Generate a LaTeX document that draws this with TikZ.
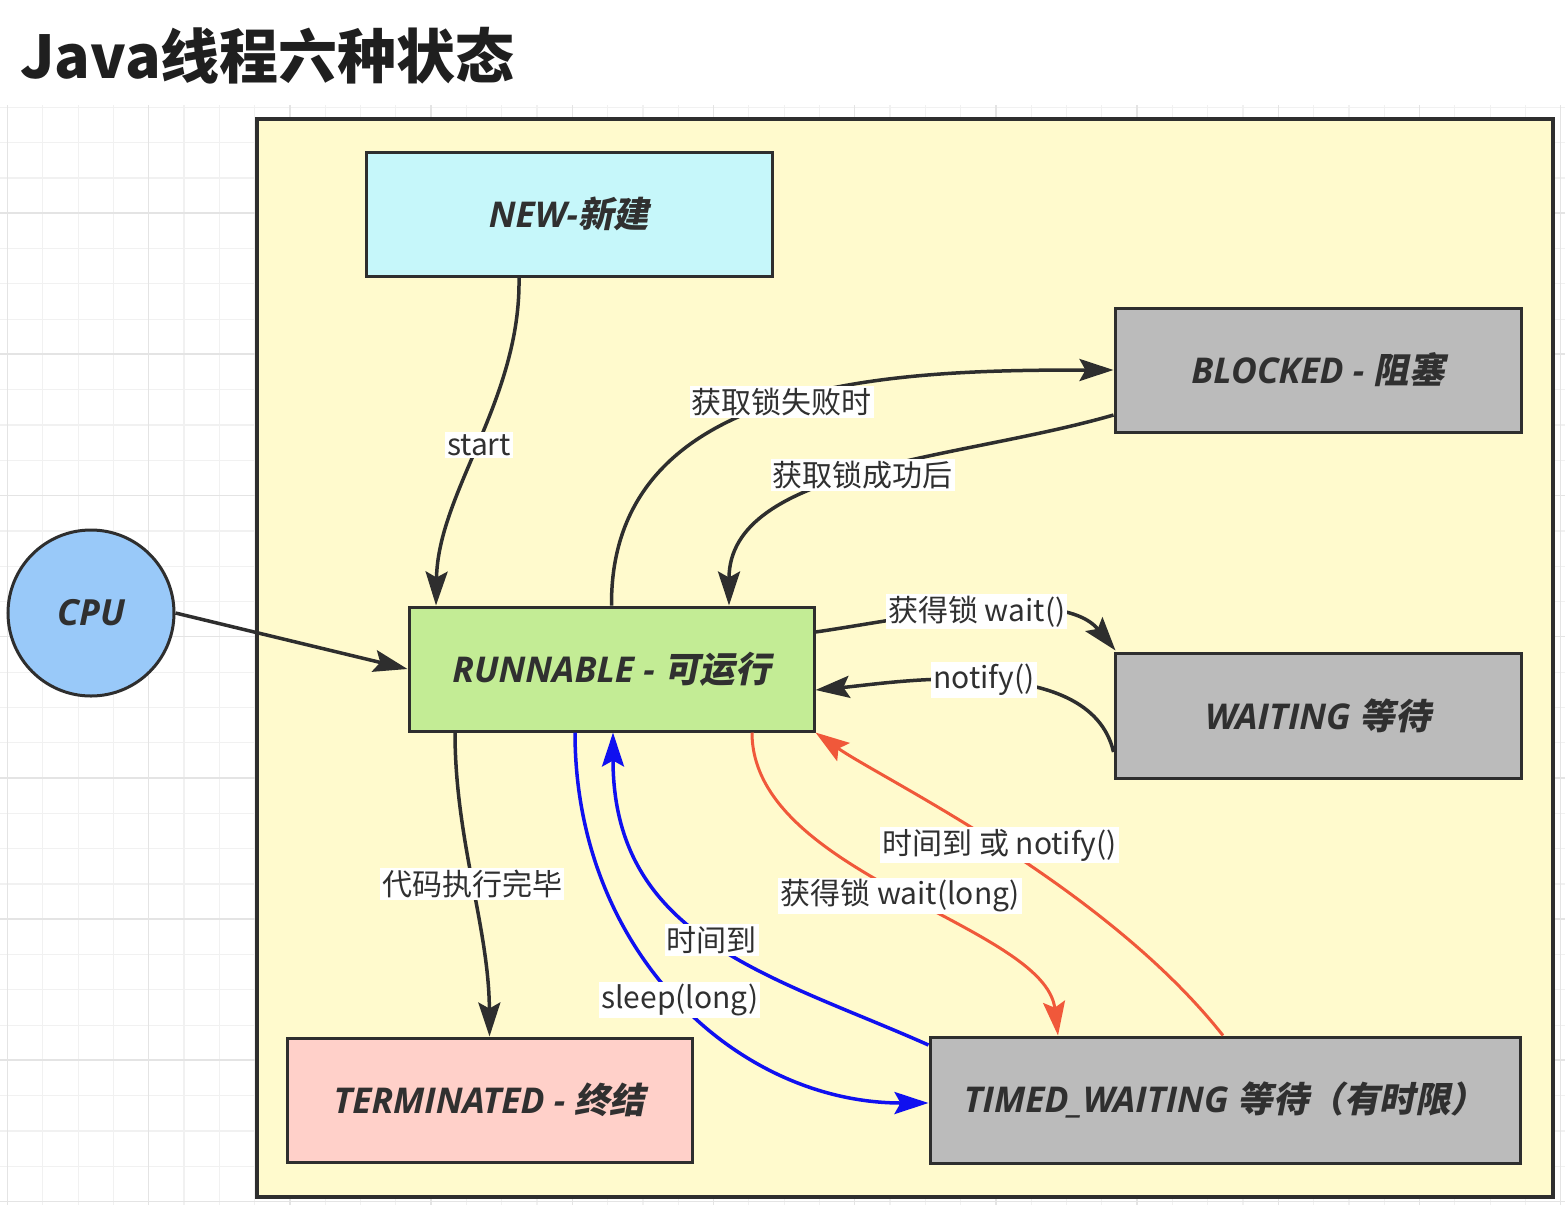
\documentclass[tikz,border=0pt]{standalone}
\usepackage{fontspec}
\usetikzlibrary{arrows.meta}
\newfontfamily\cjk{Noto Sans CJK SC}
\newfontfamily\cjkslant{Noto Sans CJK SC}[FakeSlant=0.2]
\newfontfamily\latf{Open Sans}
\newcommand\bt[2]{{\latf\bfseries\itshape #1}{\cjkslant\bfseries #2}}
\definecolor{dark}{HTML}{2E2E2E}
\definecolor{txt}{HTML}{303030}
\definecolor{yellowfill}{HTML}{FFFACD}
\definecolor{newfill}{HTML}{C6F7FA}
\definecolor{grayfill}{HTML}{BBBBBB}
\definecolor{greenfill}{HTML}{C3EC95}
\definecolor{pinkfill}{HTML}{FFD0C9}
\definecolor{cpufill}{HTML}{99C9F9}
\definecolor{bluearrow}{HTML}{1010F0}
\definecolor{redarrow}{HTML}{F0583A}
\definecolor{gridminor}{HTML}{F1F1F1}
\definecolor{gridmajor}{HTML}{E4E4E4}
\tikzset{
  statebox/.style={draw=dark, line width=3pt, rectangle, minimum width=406pt, minimum height=124pt, inner sep=0pt,
    text=txt, font=\fontsize{35.5}{40}\selectfont},
  conn/.style={draw=dark, line width=3.5pt, -{Stealth[length=34pt,width=22pt,inset=6pt]}},
  bconn/.style={conn, draw=bluearrow, -{Stealth[length=34pt,width=22pt,inset=6pt,color=bluearrow]}},
  rconn/.style={conn, draw=redarrow, line width=3pt, -{Stealth[length=34pt,width=22pt,inset=6pt,color=redarrow]}},
  lbl/.style={fill=white, inner sep=2pt, text=txt, font=\cjk\fontsize{30}{34}\selectfont},
}
\begin{document}
\begin{tikzpicture}[x=1pt, y=-1pt]
\useasboundingbox (0,0) rectangle (1565,1205);
\fill[white] (0,0) rectangle (1565,1205);
% grid
\foreach \i in {0,...,44} { \draw[gridminor, line width=1.2pt] ({7.5+35.3*\i},105) -- ({7.5+35.3*\i},1205); }
\foreach \j in {0,...,31} { \draw[gridminor, line width=1.2pt] (0,{107.3+35.3*\j}) -- (1565,{107.3+35.3*\j}); }
\foreach \i in {0,...,11} { \draw[gridmajor, line width=1.5pt] ({7.5+141.2*\i},105) -- ({7.5+141.2*\i},1205); }
\foreach \j in {0,...,7} { \draw[gridmajor, line width=1.5pt] (0,{213+141.2*\j}) -- (1565,{213+141.2*\j}); }
% title
\node[anchor=base west, inner sep=0pt, text=black!88, font=\cjk\bfseries\fontsize{59}{64}\selectfont] (title) at (20,78) {Java线程六种状态};
% outer box
\node[draw=dark, fill=yellowfill, line width=3.5pt, minimum width=1296pt, minimum height=1078pt, inner sep=0pt] (outer) at (905,658) {};
% states
\node[statebox, fill=newfill] (new) at (569,214) {\bt{NEW-}{新建}};
\node[statebox, fill=grayfill] (blocked) at (1318,370) {\bt{BLOCKED - }{阻塞}};
\node[statebox, fill=greenfill, minimum width=405pt] (run) at (611.5,669) {\bt{RUNNABLE - }{可运行}};
\node[statebox, fill=grayfill, minimum height=125pt] (waiting) at (1318,715.5) {\bt{WAITING }{等待}};
\node[statebox, fill=pinkfill, minimum width=405pt] (term) at (489.5,1100) {\bt{TERMINATED - }{终结}};
\node[statebox, fill=grayfill, minimum width=590pt, minimum height=126pt] (timed) at (1225,1100) {\bt{TIMED\_WAITING }{等待（有时限）}};
\node[circle, draw=dark, line width=3pt, fill=cpufill, minimum size=166pt, inner sep=0pt, text=txt, font=\fontsize{36}{40}\selectfont] (cpu) at (91,613) {\bt{CPU}{}};
% connectors
\draw[conn] (cpu.east) -- (run.west);
\draw[conn] ([xshift=-50pt]new.south) .. controls (521,400) and (438,492) .. ([xshift=-175.5pt]run.north)
  node[lbl, pos=0.5] (lstart) {start};
\draw[conn] (run.north) .. controls (610,376) and (900,370) .. (blocked.west)
  node[lbl, pos=0.5] (lfail) {获取锁失败时};
\draw[conn] ([yshift=-45pt]blocked.west) .. controls (958,460) and (729,467) .. ([xshift=117.5pt]run.north)
  node[lbl, pos=0.5] (lsucc) {获取锁成功后};
\draw[conn] ([yshift=37pt]run.east) .. controls (900,620) and (1061,584) .. ([xshift=2pt,yshift=1pt]waiting.north west)
  node[lbl, pos=0.5] (lwait) {获得锁 wait()};
\draw[conn] ([yshift=-36.5pt]waiting.west) .. controls (1090,650) and (891,683) .. ([yshift=-21pt]run.east)
  node[lbl, pos=0.5] (lnotify) {notify()};
\draw[conn] ([xshift=-156.5pt]run.south) .. controls (455,840) and (489,928) .. (term.north)
  node[lbl, pos=0.5] (lend) {代码执行完毕};
\draw[bconn] ([xshift=-36.5pt]run.south) .. controls (575,952) and (737,1103) .. ([yshift=-3pt]timed.west)
  node[lbl, pos=0.5] (lsleep) {sleep(long)};
\draw[bconn] ([yshift=55pt]timed.west) .. controls (771,975) and (613,939) .. ([xshift=1.5pt]run.south)
  node[lbl, pos=0.5] (ltime) {时间到};
\draw[rconn] ([xshift=140.5pt]run.south) .. controls (752,875) and (1045,925) .. ([xshift=-167pt]timed.north)
  node[lbl, pos=0.5] (lwaitlong) {获得锁 wait(long)};
\draw[rconn] ([xshift=-2pt]timed.north) .. controls (1104,885) and (882,779) .. (run.south east)
  node[lbl, pos=0.5] (ltimenotify) {时间到 或 notify()};
\end{tikzpicture}
\end{document}
